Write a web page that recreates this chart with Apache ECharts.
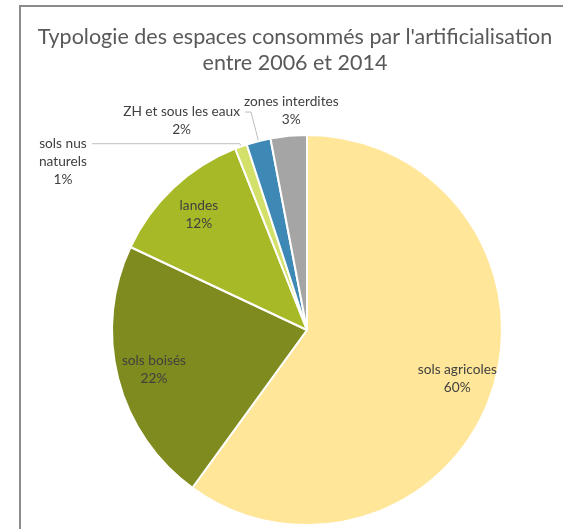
<!DOCTYPE html>
<html>
<head>
<meta charset="utf-8">
<script src="https://cdn.jsdelivr.net/npm/echarts@6/dist/echarts.min.js"></script>
<style>
  html, body { margin: 0; padding: 0; background: #fff; }
  #main { width: 566px; height: 529px; }
</style>
</head>
<body>
<div id="main"></div>
<script>
// données (en %)
var categories = ['sols agricoles', 'sols boisés', 'landes', 'sols nus\nnaturels', 'ZH et sous les eaux', 'zones interdites'];
var values = [60, 22, 12, 1, 2, 3];
var colors = ['#FFE699', '#7F8B1E', '#A8B928', '#D3E06A', '#3D88B5', '#A5A5A5'];

var inside = [true, true, true, false, false, false]; // étiquette dans la part ou dehors

// réglages des traits de rappel pour les petites parts
var lineLen = [0, 0, 0, 3, 30, 25];
var lineLen2 = [0, 0, 0, 148, 6, 0];
var padTop = [0, 0, 0, 36, 18, 0];
var showLine = [false, false, false, true, true, false];

var chart = echarts.init(document.getElementById('main'));

function fmt(p) {
  // chaque ligne centrée dans le bloc
  return (p.name + '\n' + Math.round(p.value) + '%').split('\n').map(function (s) {
    return '{c|' + s + '}';
  }).join('\n');
}

var labelFont = { fontFamily: 'Lato', fontSize: 13.7, color: '#404040', lineHeight: 18 };

var option = {
  animation: false,
  textStyle: { fontFamily: 'Lato' },
  title: {
    text: "Typologie des espaces consommés par l'artificialisation\nentre 2006 et 2014",
    left: 290,
    top: 19,
    textAlign: 'center',
    textStyle: { fontFamily: 'Lato', fontSize: 21.5, fontWeight: 'normal', color: '#595959', lineHeight: 26 }
  },
  graphic: [{
    type: 'polyline',
    shape: { points: [[20, 529], [20, 6], [563, 6]] },
    style: { stroke: '#8c8c8c', lineWidth: 2, fill: null }
  }],
  series: [
    {
      // les parts + étiquettes extérieures
      type: 'pie',
      center: [307, 330],
      radius: [0, 195],
      startAngle: 90,
      clockwise: true,
      avoidLabelOverlap: false,
      data: categories.map(function (name, i) {
        return {
          name: name, value: values[i],
          itemStyle: { color: colors[i] },
          label: inside[i] ? { show: false } : { show: true, padding: [padTop[i], 0, 0, 0] },
          labelLine: { show: showLine[i], length: lineLen[i], length2: lineLen2[i] }
        };
      }),
      itemStyle: { borderColor: '#fff', borderWidth: 2 },
      label: Object.assign({
        position: 'outside',
        formatter: fmt,
        rich: { c: Object.assign({ align: 'center' }, labelFont) }
      }, labelFont),
      labelLine: { lineStyle: { color: '#bfbfbf', width: 1 } },
      labelLayout: function (params) {
        // zones interdites : texte centré au-dessus de sa part
        if (params.dataIndex === 5) return { align: 'center', dx: 10 };
      },
      emphasis: { disabled: true }
    },
    {
      // calque transparent pour placer les étiquettes intérieures plus loin du centre
      type: 'pie',
      center: [307, 330],
      radius: [115, 195],
      startAngle: 90,
      clockwise: true,
      silent: true,
      data: categories.map(function (name, i) {
        return {
          name: name, value: values[i],
          itemStyle: { color: 'rgba(0,0,0,0)' },
          label: { show: inside[i] }
        };
      }),
      label: Object.assign({
        position: 'inside',
        formatter: fmt,
        rich: { c: Object.assign({ align: 'center' }, labelFont) }
      }, labelFont),
      labelLine: { show: false },
      emphasis: { disabled: true }
    }
  ]
};

chart.setOption(option);
</script>
</body>
</html>
